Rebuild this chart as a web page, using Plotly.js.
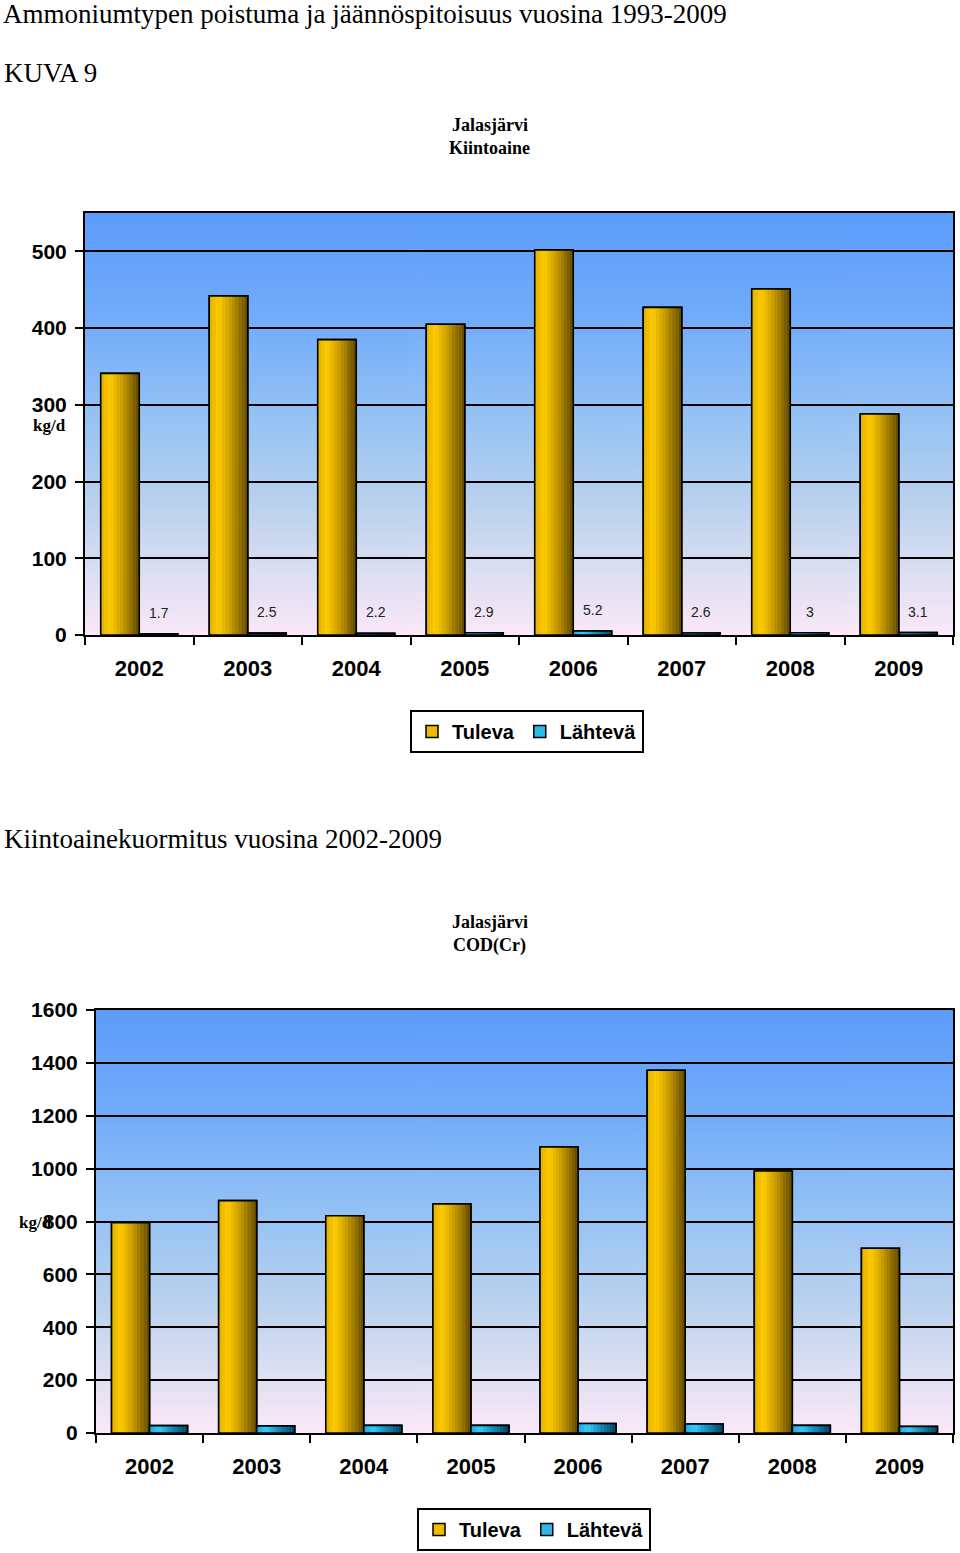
<!DOCTYPE html>
<html>
<head>
<meta charset="utf-8">
<script src="https://cdn.plot.ly/plotly-3.0.1.min.js"></script>
<style>html,body{margin:0;padding:0;background:#fff;}#chart{width:960px;height:1553px;}</style>
</head>
<body>
<div id="chart"></div>
<script>
// ---- data ----
const years = ['2002', '2003', '2004', '2005', '2006', '2007', '2008', '2009'];
const tuleva1 = [341, 442, 385, 405, 502, 427, 451, 288];
const lahteva1 = [1.7, 2.5, 2.2, 2.9, 5.2, 2.6, 3, 3.1];
const tuleva2 = [795, 879, 822, 866, 1082, 1372, 991, 699];
const lahteva2 = [28, 27, 29, 29, 36, 34, 29, 25];
const seriesNames = ['Tuleva', 'Lähtevä'];
const yTicks1 = [0, 100, 200, 300, 400, 500];
const yTicks2 = [0, 200, 400, 600, 800, 1000, 1200, 1400, 1600];

// ---- layout helpers ----
const W = 960, H = 1553;
const px = v => v / W;
const py = v => 1 - v / H;
const BW = 0.355;
const N = 12;
const SANS = 'Liberation Sans, Arial, sans-serif';
const SERIF = 'Liberation Serif, Times New Roman, serif';

function hex2rgb(h){return [parseInt(h.slice(1,3),16),parseInt(h.slice(3,5),16),parseInt(h.slice(5,7),16)];}
function interp(stops, t){
  for(let i=0;i<stops.length-1;i++){
    const [t0,c0]=stops[i],[t1,c1]=stops[i+1];
    if(t>=t0 && t<=t1){
      const f=(t-t0)/(t1-t0), a=hex2rgb(c0), b=hex2rgb(c1);
      return 'rgb('+a.map((v,k)=>Math.round(v+(b[k]-v)*f)).join(',')+')';
    }
  }
  return stops[stops.length-1][1];
}
const goldStops = [[0,'#e0b000'],[0.25,'#ffcc00'],[0.55,'#c89c00'],[1,'#5e4600']];
const cyanStops = [[0,'#18a8e0'],[0.25,'#38ccf8'],[0.55,'#1890c0'],[1,'#004060']];

const traces = [];
function addSeries(y, xa, ya, name, stops, legendId, offset, showLeg){
  traces.push({type:'bar', x:years, y:y, xaxis:xa, yaxis:ya, name:name, legend:legendId,
    offset:offset, width:BW, showlegend:showLeg, hoverinfo:'skip',
    marker:{color:interp(stops,0.35), line:{color:'#000', width:1.5}}});
  for(let i=0;i<N;i++){
    traces.push({type:'bar', x:years, y:y, xaxis:xa, yaxis:ya, showlegend:false, hoverinfo:'skip',
      offset:offset + i*BW/N, width:BW/N + 0.002,
      marker:{color:interp(stops,(i+0.5)/N), line:{width:0}}});
  }
  traces.push({type:'bar', x:years, y:y, xaxis:xa, yaxis:ya, showlegend:false, hoverinfo:'skip',
    offset:offset, width:BW, marker:{color:'rgba(0,0,0,0)', line:{color:'#000', width:1.6}}});
}
addSeries(tuleva1, 'x', 'y', seriesNames[0], goldStops, 'legend', -BW, true);
addSeries(lahteva1, 'x', 'y', seriesNames[1], cyanStops, 'legend', 0, true);
addSeries(tuleva2, 'x2', 'y2', seriesNames[0], goldStops, 'legend2', -BW, true);
addSeries(lahteva2, 'x2', 'y2', seriesNames[1], cyanStops, 'legend2', 0, true);

// background gradient image
const cv = document.createElement('canvas'); cv.width = 4; cv.height = 400;
const ctx = cv.getContext('2d');
const g = ctx.createLinearGradient(0,0,0,400);
g.addColorStop(0,'#5c9cfc'); g.addColorStop(0.25,'#72acfa'); g.addColorStop(0.5,'#98c4f4');
g.addColorStop(0.7,'#bcd2ee'); g.addColorStop(0.85,'#dcdff2'); g.addColorStop(1,'#fbe8f8');
ctx.fillStyle = g; ctx.fillRect(0,0,4,400);
const bgUrl = cv.toDataURL('image/png');

const p1 = {x0:85, x1:953, y0:213, y1:635};
const p2 = {x0:96, x1:953, y0:1010, y1:1433};
function bgImg(p){return {source:bgUrl, xref:'paper', yref:'paper', x:px(p.x0), y:py(p.y0),
  sizex:px(p.x1-p.x0), sizey:(p.y1-p.y0)/H, sizing:'stretch', xanchor:'left', yanchor:'top', layer:'below'};}

function xAxis(p, anchor){return {domain:[px(p.x0), px(p.x1)], anchor:anchor, type:'category',
  showline:true, mirror:true, linecolor:'#000', linewidth:2, ticks:'outside', tickson:'boundaries',
  ticklen:8, tickwidth:2, tickcolor:'#000', showgrid:false, ticklabelstandoff:13,
  tickfont:{family:SANS, size:22, color:'#000', weight:'bold'}, fixedrange:true};}
function yAxis(p, anchor, range, ticks){return {domain:[py(p.y1), py(p.y0)], anchor:anchor, range:range,
  tickvals:ticks, ticktext:ticks.map(String), showline:true, mirror:true, linecolor:'#000', linewidth:2,
  ticks:'outside', ticklen:8, tickwidth:2, tickcolor:'#000', showgrid:true, gridcolor:'#000', gridwidth:2,
  zeroline:false, ticklabelstandoff:4, tickfont:{family:SANS, size:21, color:'#000', weight:'bold'}, fixedrange:true};}

const annotations = [];
function txt(text, x, y, font, anchor){annotations.push({text:text, xref:'paper', yref:'paper',
  x:px(x), y:py(y), xanchor:anchor||'left', yanchor:'middle', showarrow:false, font:font});}
const serifBig = {family:SERIF, size:27, color:'#000'};
const serifBold = {family:SERIF, size:18, color:'#000', weight:'bold'};
annotations.push({text:'Ammoniumtypen poistuma ja jäännöspitoisuus vuosina 1993-2009', xref:'paper', yref:'paper',
  x:px(2), y:1, xanchor:'left', yanchor:'top', yshift:2, showarrow:false, font:serifBig, borderpad:0});
txt('KUVA 9', 2, 73, serifBig);
txt('Jalasjärvi', 490, 125, serifBold, 'center');
txt('Kiintoaine', 490, 148, serifBold, 'center');
txt('kg/d', 49, 426, {family:SERIF, size:17, color:'#000', weight:'bold'}, 'center');
txt('Kiintoainekuormitus vuosina 2002-2009', 2, 839, serifBig);
txt('Jalasjärvi', 490, 922, serifBold, 'center');
txt('COD(Cr)', 490, 945, serifBold, 'center');
txt('kg/d', 35, 1222, {family:SERIF, size:17, color:'#000', weight:'bold'}, 'center');
// data labels for Lähtevä (chart 1)
lahteva1.forEach((v,i)=>{
  annotations.push({text:String(v), xref:'x', yref:'y', x:i + BW/2, y:v, yanchor:'bottom', yshift:11,
    showarrow:false, font:{family:SANS, size:14, color:'#222'}});
});

const legendBase = {orientation:'h', xref:'paper', yref:'paper', xanchor:'center', yanchor:'top',
  bgcolor:'#fff', bordercolor:'#000', borderwidth:2, font:{family:SANS, size:20, color:'#000', weight:'bold'},
  itemwidth:30, tracegroupgap:0};

const layout = {
  width:W, height:H, margin:{l:0,r:0,t:0,b:0}, paper_bgcolor:'#fff', plot_bgcolor:'rgba(0,0,0,0)',
  barmode:'overlay', showlegend:true,
  xaxis: xAxis(p1,'y'), yaxis: yAxis(p1,'x',[0,550],yTicks1),
  xaxis2: xAxis(p2,'y2'), yaxis2: yAxis(p2,'x2',[0,1600],yTicks2),
  legend: Object.assign({}, legendBase, {x:px(527), y:py(710)}),
  legend2: Object.assign({}, legendBase, {x:px(534), y:py(1508)}),
  images:[bgImg(p1), bgImg(p2)],
  annotations: annotations
};
Plotly.newPlot('chart', traces, layout, {displayModeBar:false, staticPlot:true});
</script>
</body>
</html>
